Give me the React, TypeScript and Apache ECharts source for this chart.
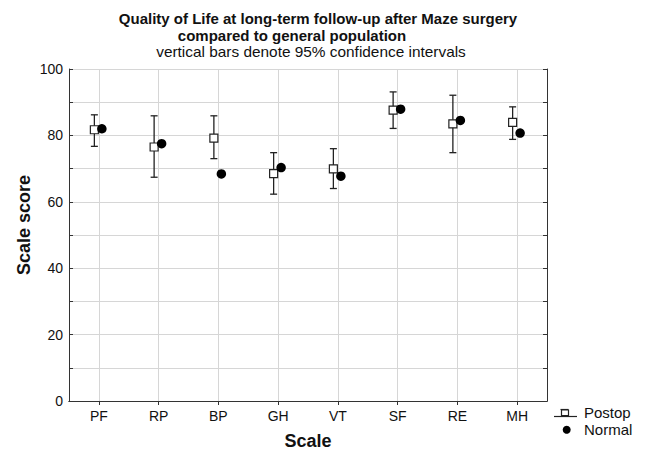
import React, { useEffect, useRef } from "react";
import * as echarts from "echarts";

const categories = ["PF", "RP", "BP", "GH", "VT", "SF", "RE", "MH"];
const postopMean = [81.7, 76.5, 79.2, 68.5, 69.9, 87.6, 83.5, 83.9];
const postopUpper = [86.2, 85.9, 85.9, 74.8, 76.0, 93.1, 92.1, 88.6];
const postopLower = [76.7, 67.4, 73.0, 62.3, 64.0, 82.1, 74.8, 78.8];
const normalMean = [82.0, 77.5, 68.4, 70.3, 67.7, 87.9, 84.5, 80.7];
const yTicks = [0, 20, 40, 60, 80, 100];

const FONT = "'Liberation Sans', Arial, sans-serif";
const AXIS_COLOR = "#333";
const GRID_COLOR = "#d6d6d6";

export default function App() {
  const ref = useRef<HTMLDivElement>(null);
  useEffect(() => {
    if (!ref.current) return;
    const chart = echarts.init(ref.current, undefined, { renderer: "svg" });
    const errData = categories.map((_, i) => [i, postopLower[i], postopUpper[i]]);
    const option: any = {
      animation: false,
      backgroundColor: "#fff",
      textStyle: { fontFamily: FONT },
      grid: { left: 69, right: 101, top: 69, bottom: 48, containLabel: false },
      xAxis: [
        {
          type: "category",
          data: categories,
          position: "bottom",
          name: "Scale",
          nameLocation: "middle",
          nameGap: 31,
          nameTextStyle: { fontFamily: FONT, fontSize: 18, fontWeight: "bold", color: "#111" },
          axisLine: { show: true, lineStyle: { color: AXIS_COLOR, width: 1 } },
          axisTick: { show: true, inside: true, alignWithLabel: true, length: 4, lineStyle: { color: AXIS_COLOR } },
          axisLabel: { fontFamily: FONT, fontSize: 14, color: "#111", margin: 8 },
          splitLine: { show: false },
        },
        {
          type: "category",
          data: categories,
          position: "top",
          axisLine: { show: true, lineStyle: { color: AXIS_COLOR, width: 1 } },
          axisTick: { show: true, inside: true, alignWithLabel: true, length: 4, lineStyle: { color: AXIS_COLOR } },
          axisLabel: { show: false },
          splitLine: { show: false },
        },
      ],
      yAxis: [
        {
          type: "value",
          min: 0,
          max: 100,
          interval: 10,
          axisLine: { show: true, lineStyle: { color: AXIS_COLOR, width: 1 } },
          axisTick: { show: true, inside: true, length: 4, lineStyle: { color: AXIS_COLOR } },
          axisLabel: {
            fontFamily: FONT,
            fontSize: 14,
            color: "#111",
            margin: 6,
            formatter: (v: number) => (yTicks.indexOf(v) >= 0 ? String(v) : ""),
          },
          splitLine: { show: true, lineStyle: { color: GRID_COLOR, width: 1 } },
        },
        {
          type: "value",
          min: 0,
          max: 100,
          interval: 10,
          position: "right",
          axisLine: { show: true, lineStyle: { color: AXIS_COLOR, width: 1 } },
          axisTick: { show: true, inside: true, length: 4, lineStyle: { color: AXIS_COLOR } },
          axisLabel: { show: false },
          splitLine: { show: false },
        },
      ],
      series: [
        {
          type: "custom",
          name: "Postop CI",
          xAxisIndex: 0,
          yAxisIndex: 0,
          silent: true,
          z: 3,
          renderItem: (params: any, api: any) => {
            const x = api.value(0);
            const lo = api.coord([x, api.value(1)]);
            const hi = api.coord([x, api.value(2)]);
            const cx = lo[0] - 4.5;
            const cap = 3.5;
            const style = { stroke: "#222", lineWidth: 1.3 };
            return {
              type: "group",
              children: [
                { type: "line", shape: { x1: cx, y1: lo[1], x2: cx, y2: hi[1] }, style },
                { type: "line", shape: { x1: cx - cap, y1: hi[1], x2: cx + cap, y2: hi[1] }, style },
                { type: "line", shape: { x1: cx - cap, y1: lo[1], x2: cx + cap, y2: lo[1] }, style },
              ],
            };
          },
          encode: { x: 0, y: [1, 2] },
          data: errData,
          markLine: {
            silent: true,
            symbol: ["none", "none"],
            label: { show: false },
            lineStyle: { color: GRID_COLOR, type: "solid", width: 1 },
            data: categories.map((c) => ({ xAxis: c })),
            z: 1,
          },
        },
        {
          type: "scatter",
          name: "Postop",
          xAxisIndex: 0,
          yAxisIndex: 0,
          symbol: "rect",
          symbolSize: 8,
          symbolOffset: [-4.5, 0],
          itemStyle: { color: "#fff", borderColor: "#222", borderWidth: 1.2, opacity: 1 },
          data: postopMean,
          z: 4,
        },
        {
          type: "scatter",
          name: "Normal",
          xAxisIndex: 0,
          yAxisIndex: 0,
          symbol: "circle",
          symbolSize: 9.5,
          symbolOffset: [3, 0],
          itemStyle: { color: "#000", opacity: 1 },
          data: normalMean,
          z: 5,
        },
      ],
      graphic: [
        {
          type: "text",
          x: 318,
          y: 18,
          style: {
            text: "Quality of Life at long-term follow-up after Maze surgery",
            font: `bold 15px ${FONT}`,
            fill: "#111",
            textAlign: "center",
            textVerticalAlign: "middle",
          },
        },
        {
          type: "text",
          x: 292,
          y: 35,
          style: {
            text: "compared to general population",
            font: `bold 15px ${FONT}`,
            fill: "#111",
            textAlign: "center",
            textVerticalAlign: "middle",
          },
        },
        {
          type: "text",
          x: 311,
          y: 52,
          scaleX: 1.1,
          style: {
            text: "vertical bars denote 95% confidence intervals",
            font: `14px ${FONT}`,
            fill: "#111",
            textAlign: "center",
            textVerticalAlign: "middle",
          },
        },
        {
          type: "text",
          x: 24,
          y: 225,
          rotation: Math.PI / 2,
          style: {
            text: "Scale score",
            font: `bold 18px ${FONT}`,
            fill: "#111",
            textAlign: "center",
            textVerticalAlign: "middle",
          },
        },
        { type: "line", shape: { x1: 560.5, y1: 409.5, x2: 568.5, y2: 409.5 }, style: { stroke: "#222", lineWidth: 1.2 } },
        { type: "line", shape: { x1: 564.5, y1: 409.5, x2: 564.5, y2: 416.5 }, style: { stroke: "#222", lineWidth: 1.2 } },
        { type: "rect", shape: { x: 561.5, y: 410, width: 7, height: 5.5 }, style: { fill: "#fff", stroke: "#222", lineWidth: 1.2 } },
        { type: "line", shape: { x1: 554, y1: 416.5, x2: 577, y2: 416.5 }, style: { stroke: "#222", lineWidth: 1.2 } },
        { type: "circle", shape: { cx: 566.7, cy: 429.7, r: 4 }, style: { fill: "#000" } },
        {
          type: "text",
          x: 584,
          y: 412.5,
          style: { text: "Postop", font: `15px ${FONT}`, fill: "#111", textAlign: "left", textVerticalAlign: "middle" },
        },
        {
          type: "text",
          x: 584,
          y: 429,
          style: { text: "Normal", font: `15px ${FONT}`, fill: "#111", textAlign: "left", textVerticalAlign: "middle" },
        },
      ],
    };
    chart.setOption(option);
    return () => chart.dispose();
  }, []);
  return <div ref={ref} style={{ width: 648, height: 455, margin: -8 }} />;
}
